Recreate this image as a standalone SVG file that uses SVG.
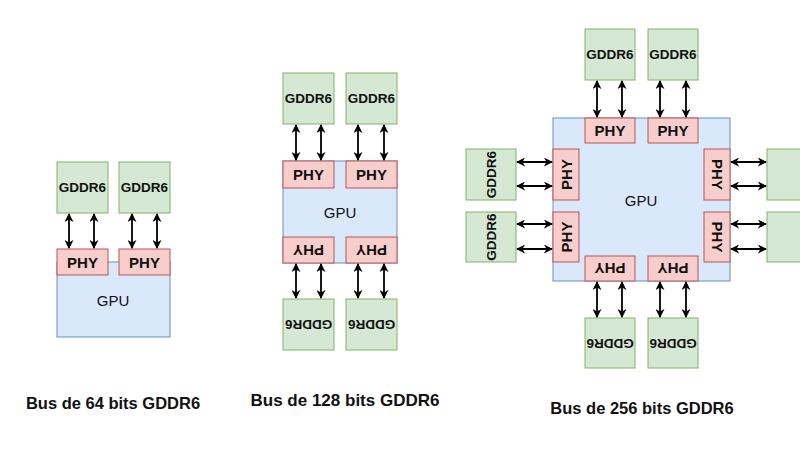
<svg xmlns="http://www.w3.org/2000/svg" width="800" height="450" viewBox="0 0 800 450">
<defs>
<marker id="ah" viewBox="0 0 10 10" refX="9" refY="5" markerWidth="9" markerHeight="9" orient="auto-start-reverse" markerUnits="userSpaceOnUse"><path d="M0,0 L10,5 L0,10 L3,5 Z" fill="#000"/></marker>
<style>
.g{fill:#d5e8d4;stroke:#82b366;stroke-width:1}
.p{fill:#f8cecc;stroke:#b85450;stroke-width:1}
.u{fill:#dae8fc;stroke:#6c8ebf;stroke-width:1}
text{font-family:"Liberation Sans",Arial,sans-serif;text-anchor:middle;dominant-baseline:central;fill:#111}
.tg{font-size:13.5px;font-weight:bold}
.tp{font-size:15px;font-weight:bold}
.tu{font-size:15px}
.cap{font-size:16.5px;font-weight:bold}
.c line{stroke:#000;stroke-width:1.8;marker-start:url(#ah);marker-end:url(#ah)}
</style>
</defs>
<rect width="800" height="450" fill="#fff"/>
<!-- Left -->
<g id="gpu64"><rect class="u" x="57" y="262" width="113" height="75"/><text class="tu" x="113" y="300">GPU</text></g>
<g id="phy64a"><rect class="p" x="57" y="249" width="51" height="26"/><text class="tp" x="82.5" y="262">PHY</text></g>
<g id="phy64b"><rect class="p" x="119" y="249" width="51" height="26"/><text class="tp" x="144.5" y="262">PHY</text></g>
<g id="mem64a"><rect class="g" x="57" y="162" width="51" height="51"/><text class="tg" x="82.5" y="187.5">GDDR6</text></g>
<g id="mem64b"><rect class="g" x="119" y="162" width="51" height="51"/><text class="tg" x="144.5" y="187.5">GDDR6</text></g>
<!-- Middle -->
<g id="gpu128"><rect class="u" x="283" y="161" width="114" height="102"/><text class="tu" x="340" y="212">GPU</text></g>
<g id="phy128a"><rect class="p" x="283" y="161" width="51" height="27"/><text class="tp" x="308.5" y="174.5">PHY</text></g>
<g id="phy128b"><rect class="p" x="346" y="161" width="51" height="27"/><text class="tp" x="371.5" y="174.5">PHY</text></g>
<g id="phy128c"><rect class="p" x="283" y="237" width="51" height="26"/><text class="tp" transform="rotate(180 308.5 250)" x="308.5" y="250">PHY</text></g>
<g id="phy128d"><rect class="p" x="346" y="237" width="51" height="26"/><text class="tp" transform="rotate(180 371.5 250)" x="371.5" y="250">PHY</text></g>
<g id="mem128a"><rect class="g" x="283" y="73" width="51" height="51"/><text class="tg" x="308.5" y="98.5">GDDR6</text></g>
<g id="mem128b"><rect class="g" x="346" y="73" width="51" height="51"/><text class="tg" x="371.5" y="98.5">GDDR6</text></g>
<g id="mem128c"><rect class="g" x="283" y="299" width="51" height="51"/><text class="tg" transform="rotate(180 308.5 324.5)" x="308.5" y="324.5">GDDR6</text></g>
<g id="mem128d"><rect class="g" x="346" y="299" width="51" height="51"/><text class="tg" transform="rotate(180 371.5 324.5)" x="371.5" y="324.5">GDDR6</text></g>
<!-- Right -->
<g id="gpu256"><rect class="u" x="553" y="118" width="177" height="163"/><text class="tu" x="641" y="200">GPU</text></g>
<g id="phy256t1"><rect class="p" x="585" y="118" width="50" height="25"/><text class="tp" x="610" y="130.5">PHY</text></g>
<g id="phy256t2"><rect class="p" x="648" y="118" width="50" height="25"/><text class="tp" x="673" y="130.5">PHY</text></g>
<g id="phy256b1"><rect class="p" x="585" y="256" width="50" height="25"/><text class="tp" transform="rotate(180 610 268.5)" x="610" y="268.5">PHY</text></g>
<g id="phy256b2"><rect class="p" x="648" y="256" width="50" height="25"/><text class="tp" transform="rotate(180 673 268.5)" x="673" y="268.5">PHY</text></g>
<g id="phy256l1"><rect class="p" x="553" y="149" width="26" height="51"/><text class="tp" transform="rotate(-90 566 174.5)" x="566" y="174.5">PHY</text></g>
<g id="phy256l2"><rect class="p" x="553" y="212" width="26" height="50"/><text class="tp" transform="rotate(-90 566 237)" x="566" y="237">PHY</text></g>
<g id="phy256r1"><rect class="p" x="704" y="149" width="26" height="51"/><text class="tp" transform="rotate(90 717 174.5)" x="717" y="174.5">PHY</text></g>
<g id="phy256r2"><rect class="p" x="704" y="212" width="26" height="50"/><text class="tp" transform="rotate(90 717 237)" x="717" y="237">PHY</text></g>
<g id="mem256t1"><rect class="g" x="585" y="29" width="50" height="51"/><text class="tg" x="610" y="54.5">GDDR6</text></g>
<g id="mem256t2"><rect class="g" x="648" y="29" width="50" height="51"/><text class="tg" x="673" y="54.5">GDDR6</text></g>
<g id="mem256b1"><rect class="g" x="585" y="318" width="50" height="50"/><text class="tg" transform="rotate(180 610 343)" x="610" y="343">GDDR6</text></g>
<g id="mem256b2"><rect class="g" x="648" y="318" width="50" height="50"/><text class="tg" transform="rotate(180 673 343)" x="673" y="343">GDDR6</text></g>
<g id="mem256l1"><rect class="g" x="466" y="149" width="50" height="51"/><text class="tg" transform="rotate(-90 491 174.5)" x="491" y="174.5">GDDR6</text></g>
<g id="mem256l2"><rect class="g" x="466" y="212" width="50" height="50"/><text class="tg" transform="rotate(-90 491 237)" x="491" y="237">GDDR6</text></g>
<g id="mem256r1"><rect class="g" x="767" y="149" width="50" height="51"/></g>
<g id="mem256r2"><rect class="g" x="767" y="212" width="50" height="50"/></g>
<!-- connectors -->
<g id="connectors" class="c">
<line x1="69" y1="214" x2="69" y2="248"/><line x1="94" y1="214" x2="94" y2="248"/>
<line x1="132" y1="214" x2="132" y2="248"/><line x1="157" y1="214" x2="157" y2="248"/>
<line x1="296" y1="125" x2="296" y2="160"/><line x1="321" y1="125" x2="321" y2="160"/>
<line x1="358" y1="125" x2="358" y2="160"/><line x1="384" y1="125" x2="384" y2="160"/>
<line x1="296" y1="264" x2="296" y2="298"/><line x1="321" y1="264" x2="321" y2="298"/>
<line x1="358" y1="264" x2="358" y2="298"/><line x1="384" y1="264" x2="384" y2="298"/>
<line x1="597" y1="81" x2="597" y2="117"/><line x1="622" y1="81" x2="622" y2="117"/>
<line x1="660" y1="81" x2="660" y2="117"/><line x1="686" y1="81" x2="686" y2="117"/>
<line x1="597" y1="282" x2="597" y2="317"/><line x1="622" y1="282" x2="622" y2="317"/>
<line x1="660" y1="282" x2="660" y2="317"/><line x1="686" y1="282" x2="686" y2="317"/>
<line x1="517" y1="162" x2="552" y2="162"/><line x1="517" y1="186" x2="552" y2="186"/>
<line x1="517" y1="224" x2="552" y2="224"/><line x1="517" y1="249" x2="552" y2="249"/>
<line x1="731" y1="162" x2="766" y2="162"/><line x1="731" y1="186" x2="766" y2="186"/>
<line x1="731" y1="224" x2="766" y2="224"/><line x1="731" y1="249" x2="766" y2="249"/>
</g>
<text class="cap" x="113" y="403">Bus de 64 bits GDDR6</text>
<text class="cap" x="345" y="400" style="font-size:17px">Bus de 128 bits GDDR6</text>
<text class="cap" x="642" y="408">Bus de 256 bits GDDR6</text>
</svg>
